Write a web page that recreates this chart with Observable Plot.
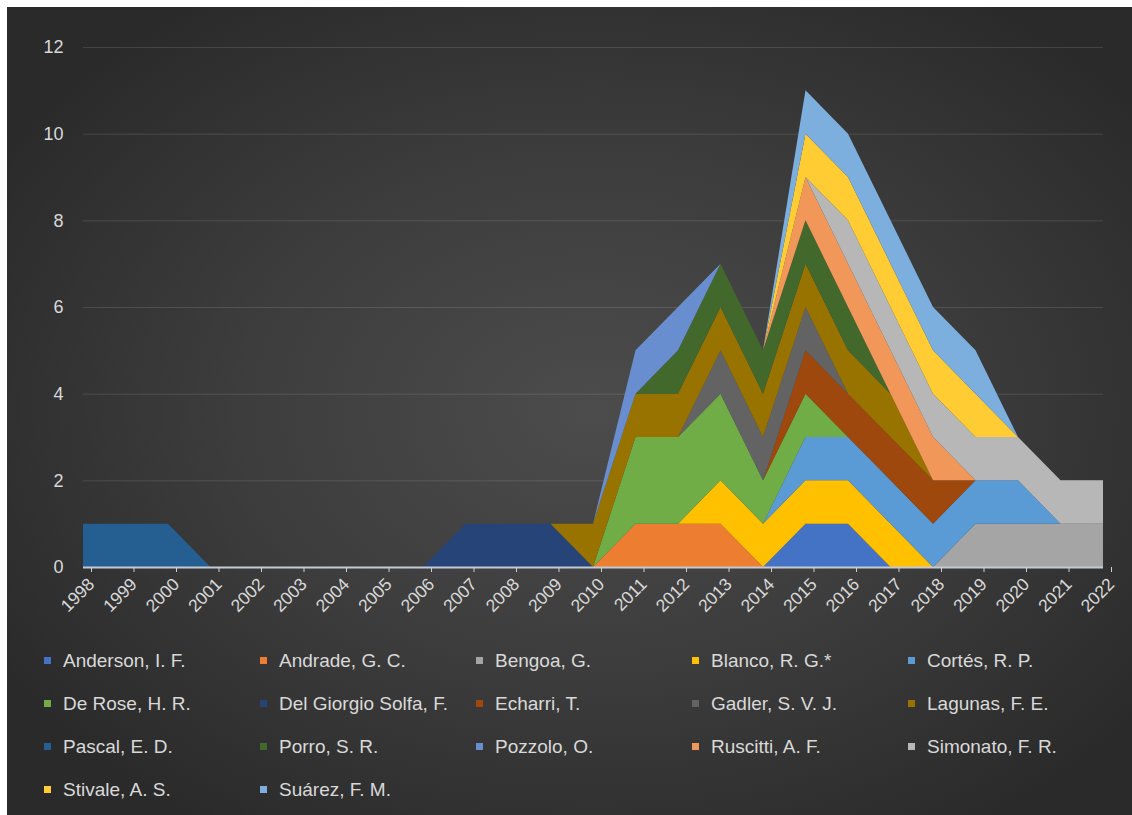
<!DOCTYPE html>
<html>
<head>
<meta charset="utf-8">
<script src="https://cdn.jsdelivr.net/npm/d3@7"></script>
<script src="https://cdn.jsdelivr.net/npm/@observablehq/plot@0.6"></script>
<style>
  html, body { margin: 0; padding: 0; background: #ffffff; }
  #frame {
    position: absolute; left: 7px; top: 7px; width: 1125px; height: 808px;
    background: radial-gradient(ellipse 62% 62% at 52% 50%, #4c4c4c 0%, #3d3d3d 50%, #2a2a2a 100%);
  }
  #chart { position: absolute; left: 0; top: 0; width: 1132px; height: 625px; }
  #legend {
    position: absolute; left: 44px; top: 639px;
    display: grid; grid-template-columns: repeat(5, 216px); grid-auto-rows: 43px;
    font-family: "Liberation Sans", Arial, sans-serif; font-size: 19px; color: #d9d9d9;
  }
  .item { display: flex; align-items: center; white-space: nowrap; }
  .sw { width: 7px; height: 7px; margin-right: 12px; flex: none; }
</style>
</head>
<body>
<div id="frame"></div>
<div id="chart"></div>
<div id="legend"></div>
<script>
const years = d3.range(1998, 2023);
const yTicks = [0, 2, 4, 6, 8, 10, 12];

const names = [
  "Anderson, I. F.", "Andrade, G. C.", "Bengoa, G.", "Blanco, R. G.*", "Cortés, R. P.",
  "De Rose, H. R.", "Del Giorgio Solfa, F.", "Echarri, T.", "Gadler, S. V. J.", "Lagunas, F. E.",
  "Pascal, E. D.", "Porro, S. R.", "Pozzolo, O.", "Ruscitti, A. F.", "Simonato, F. R.",
  "Stivale, A. S.", "Suárez, F. M."
];
const colors = [
  "#4472C4", "#ED7D31", "#A5A5A5", "#FFC000", "#5B9BD5",
  "#70AD47", "#264478", "#9E480E", "#636363", "#997300",
  "#255E91", "#43682B", "#698ED0", "#F1975A", "#B7B7B7",
  "#FFCD33", "#7CAFDD"
];

//                 1998 ............................ 2010 ........................ 2022
const anderson   = [0,0,0,0,0,0,0,0,0,0,0,0,0, 0,0,0,0, 1,1,0,0,0,0,0,0];
const andrade    = [0,0,0,0,0,0,0,0,0,0,0,0,0, 1,1,1,0, 0,0,0,0,0,0,0,0];
const bengoa     = [0,0,0,0,0,0,0,0,0,0,0,0,0, 0,0,0,0, 0,0,0,0,1,1,1,1];
const blanco     = [0,0,0,0,0,0,0,0,0,0,0,0,0, 0,0,1,1, 1,1,1,0,0,0,0,0];
const cortes     = [0,0,0,0,0,0,0,0,0,0,0,0,0, 0,0,0,0, 1,1,1,1,1,1,0,0];
const deRose     = [0,0,0,0,0,0,0,0,0,0,0,0,0, 2,2,2,1, 1,0,0,0,0,0,0,0];
const delGiorgio = [0,0,0,0,0,0,0,0,0,1,1,1,0, 0,0,0,0, 0,0,0,0,0,0,0,0];
const echarri    = [0,0,0,0,0,0,0,0,0,0,0,0,0, 0,0,0,0, 1,1,1,1,0,0,0,0];
const gadler     = [0,0,0,0,0,0,0,0,0,0,0,0,0, 0,0,1,1, 1,0,0,0,0,0,0,0];
const lagunas    = [0,0,0,0,0,0,0,0,0,0,0,0,1, 1,1,1,1, 1,1,1,0,0,0,0,0];
const pascal     = [1,1,1,0,0,0,0,0,0,0,0,0,0, 0,0,0,0, 0,0,0,0,0,0,0,0];
const porro      = [0,0,0,0,0,0,0,0,0,0,0,0,0, 0,1,1,1, 1,1,0,0,0,0,0,0];
const pozzolo    = [0,0,0,0,0,0,0,0,0,0,0,0,0, 1,1,0,0, 0,0,0,0,0,0,0,0];
const ruscitti   = [0,0,0,0,0,0,0,0,0,0,0,0,0, 0,0,0,0, 1,1,1,1,0,0,0,0];
const simonato   = [0,0,0,0,0,0,0,0,0,0,0,0,0, 0,0,0,0, 0,1,1,1,1,1,1,1];
const stivale    = [0,0,0,0,0,0,0,0,0,0,0,0,0, 0,0,0,0, 1,1,1,1,1,0,0,0];
const suarez     = [0,0,0,0,0,0,0,0,0,0,0,0,0, 0,0,0,0, 1,1,1,1,1,0,0,0];

const seriesValues = [anderson, andrade, bengoa, blanco, cortes, deRose, delGiorgio, echarri,
  gadler, lagunas, pascal, porro, pozzolo, ruscitti, simonato, stivale, suarez];

const table = [];
seriesValues.forEach((vals, i) => vals.forEach((v, j) => table.push({year: years[j], author: names[i], value: v})));

const chart = Plot.plot({
  width: 1132,
  height: 625,
  marginLeft: 83,
  marginRight: 29,
  marginTop: 47,
  marginBottom: 58,
  style: {background: "transparent", color: "#d9d9d9", fontFamily: "'Liberation Sans', Arial, sans-serif"},
  x: {domain: [1998, 2022]},
  y: {domain: [0, 12]},
  color: {domain: names, range: colors},
  marks: [
    Plot.ruleY(yTicks.filter(d => d > 0), {stroke: "#ffffff", strokeOpacity: 0.12}),
    Plot.areaY(table, {x: "year", y: "value", z: "author", fill: "author", order: names}),
    Plot.ruleY([0], {stroke: "#c3cad6", strokeWidth: 2}),
    Plot.axisY({ticks: yTicks, tickSize: 0, tickPadding: 20, fontSize: 18, label: null, tickFormat: d => String(d)}),
    Plot.axisX({ticks: years, tickSize: 5, tickPadding: 9, tickRotate: -45, fontSize: 17.5, label: null,
      stroke: "#d0d0d0", tickFormat: d => String(d), dx: 8})
  ]
});
document.getElementById("chart").appendChild(chart);

const legend = document.getElementById("legend");
names.forEach((n, i) => {
  const item = document.createElement("div");
  item.className = "item";
  const sw = document.createElement("span");
  sw.className = "sw";
  sw.style.background = colors[i];
  item.appendChild(sw);
  item.appendChild(document.createTextNode(n));
  legend.appendChild(item);
});
</script>
</body>
</html>
